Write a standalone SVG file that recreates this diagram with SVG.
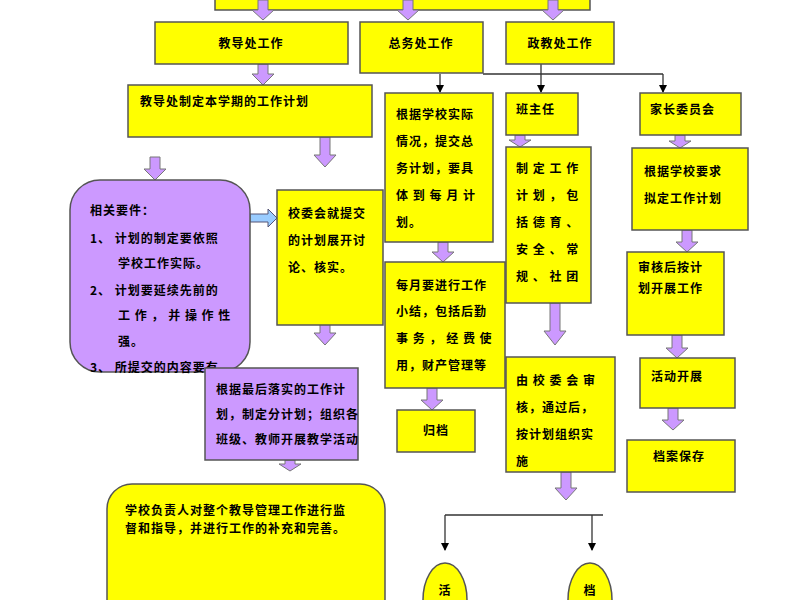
<svg xmlns="http://www.w3.org/2000/svg" width="800" height="600" viewBox="0 0 800 600">
<defs>
<style>
.y{fill:#ffff00;stroke:#555;stroke-width:1.5}
.p{fill:#cc99ff;stroke:#555;stroke-width:1.5}
.t{font-family:"Noto Sans CJK SC","Noto Sans",sans-serif;font-size:12px;font-weight:bold;fill:#000;letter-spacing:1px}
.ar{fill:#cc99ff;stroke:#777;stroke-width:1}
.ln{stroke:#333;stroke-width:1.3;fill:none}
</style>
<marker id="m" markerWidth="8" markerHeight="8" refX="7" refY="4" orient="auto" markerUnits="userSpaceOnUse"><path d="M0,0L8,4L0,8z" fill="#000"/></marker>
<path id="pa" d="M-5,0H5V-0H5V0" />
</defs>
<rect width="800" height="600" fill="#fff"/>
<g id="top"><rect class="y" x="215" y="-10" width="375" height="20"/></g>
<g id="arrows">
<path class="ar" d="M258,0h10v10h6l-11,10l-11,-10h6z"/>
<path class="ar" d="M403,0h10v10h6l-11,10l-11,-10h6z"/>
<path class="ar" d="M548,0h10v10h6l-11,10l-11,-10h6z"/>
<path class="ar" d="M258,64h10v10h6l-11,11l-11,-11h6z"/>
<path class="ar" d="M150,157h10v12h6l-11,11l-11,-11h6z"/>
<path class="ar" d="M320,137h10v18h6l-11,12l-11,-12h6z"/>
<path fill="#99ccff" stroke="#557" stroke-width="1" d="M250,214h18v-5l9,9l-9,9v-5h-18z"/>
<path class="ar" d="M320,316h10v17h6l-11,12l-11,-12h6z"/>
<path class="ar" d="M285,460h10v4h6l-11,7l-11,-7h6z"/>
<path class="ar" d="M438,242h10v10h6l-11,10l-11,-10h6z"/>
<path class="ar" d="M427,388h10v12h6l-11,10l-11,-10h6z"/>
<path class="ar" d="M515,135h10v5h6l-11,7l-11,-7h6z"/>
<path class="ar" d="M550,303h10v28h6l-11,14l-11,-14h6z"/>
<path class="ar" d="M561,472h10v16h6l-11,12l-11,-12h6z"/>
<path class="ar" d="M675,135h10v6h6l-11,7l-11,-7h6z"/>
<path class="ar" d="M682,230h10v12h6l-11,10l-11,-10h6z"/>
<path class="ar" d="M672,335h10v13h6l-11,10l-11,-10h6z"/>
<path class="ar" d="M668,408h10v12h6l-11,10l-11,-10h6z"/>
</g>
<g id="connectors">
<path class="ln" d="M483,74H663"/>
<path class="ln" d="M440,74V92" marker-end="url(#m)"/>
<path class="ln" d="M541,64V92" marker-end="url(#m)"/>
<path class="ln" d="M663,74V92" marker-end="url(#m)"/>
<path class="ln" d="M445,515H603"/>
<path class="ln" d="M445,515V550" marker-end="url(#m)"/>
<path class="ln" d="M592,515V550" marker-end="url(#m)"/>
</g>
<g id="jiaodao"><rect class="y" x="155" y="22" width="193" height="42"/><text class="t" x="251" y="48" text-anchor="middle">教导处工作</text></g>
<g id="zongwu"><rect class="y" x="360" y="22" width="123" height="51"/><text class="t" x="421" y="48" text-anchor="middle">总务处工作</text></g>
<g id="zhengjiao"><rect class="y" x="506" y="22" width="108" height="42"/><text class="t" x="560" y="48" text-anchor="middle">政教处工作</text></g>
<g id="plan"><rect class="y" x="128" y="85" width="244" height="52"/><text class="t" x="140" y="106">教导处制定本学期的工作计划</text></g>
<g id="req"><rect class="p" x="70" y="180" width="180" height="192" rx="30"/>
<text class="t" x="90" y="215">相关要件：</text>
<text class="t" x="90" y="243">1、 计划的制定要依照</text>
<text class="t" x="118" y="268">学校工作实际。</text>
<text class="t" x="90" y="295">2、 计划要延续先前的</text>
<text class="t" x="118" y="320">工 作 ， 并 操 作 性</text>
<text class="t" x="118" y="346">强。</text>
<text class="t" x="90" y="372">3、 所提交的内容要有</text></g>
<g id="xiaowei"><rect class="y" x="277" y="190" width="106" height="135"/>
<text class="t" x="288" y="218">校委会就提交</text><text class="t" x="288" y="245">的计划展开讨</text><text class="t" x="288" y="272">论、核实。</text></g>
<g id="fenjihua"><rect class="p" x="205" y="368" width="153" height="92"/>
<text class="t" x="216" y="394">根据最后落实的工作计</text><text class="t" x="216" y="419">划，制定分计划；组织各</text><text class="t" x="216" y="444">班级、教师开展教学活动</text></g>
<g id="jiandu"><rect class="y" x="107" y="484" width="278" height="140" rx="25"/>
<text class="t" x="125" y="515">学校负责人对整个教导管理工作进行监</text><text class="t" x="125" y="533">督和指导，并进行工作的补充和完善。</text></g>
<g id="zw1"><rect class="y" x="385" y="93" width="108" height="149"/>
<text class="t" x="396" y="119">根据学校实际</text><text class="t" x="396" y="146">情况，提交总</text><text class="t" x="396" y="173">务计划，要具</text><text class="t" x="396" y="200">体 到 每 月 计</text><text class="t" x="396" y="227">划。</text></g>
<g id="zw2"><rect class="y" x="385" y="262" width="120" height="126"/>
<text class="t" x="396" y="290">每月要进行工作</text><text class="t" x="396" y="316">小结，包括后勤</text><text class="t" x="396" y="343">事 务 ， 经 费 使</text><text class="t" x="396" y="370">用，财产管理等</text></g>
<g id="guidang"><rect class="y" x="397" y="410" width="78" height="42"/><text class="t" x="436" y="435" text-anchor="middle">归档</text></g>
<g id="banzhuren"><rect class="y" x="506" y="93" width="72" height="42"/><text class="t" x="516" y="114">班主任</text></g>
<g id="bzr2"><rect class="y" x="506" y="147" width="85" height="156"/>
<text class="t" x="516" y="173">制 定 工 作</text><text class="t" x="516" y="200">计 划 ， 包</text><text class="t" x="516" y="227">括 德 育 、</text><text class="t" x="516" y="254">安 全 、 常</text><text class="t" x="516" y="281">规 、 社 团</text></g>
<g id="bzr3"><rect class="y" x="506" y="357" width="109" height="115"/>
<text class="t" x="516" y="385">由 校 委 会 审</text><text class="t" x="516" y="412">核，通过后，</text><text class="t" x="516" y="439">按计划组织实</text><text class="t" x="516" y="466">施</text></g>
<g id="jiazhang"><rect class="y" x="640" y="93" width="101" height="42"/><text class="t" x="650" y="114">家长委员会</text></g>
<g id="jz2"><rect class="y" x="632" y="148" width="116" height="82"/><text class="t" x="644" y="176">根据学校要求</text><text class="t" x="644" y="203">拟定工作计划</text></g>
<g id="jz3"><rect class="y" x="627" y="252" width="97" height="83"/><text class="t" x="638" y="272">审核后按计</text><text class="t" x="638" y="293">划开展工作</text></g>
<g id="jz4"><rect class="y" x="640" y="358" width="95" height="50"/><text class="t" x="651" y="381">活动开展</text></g>
<g id="jz5"><rect class="y" x="627" y="440" width="108" height="52"/><text class="t" x="653" y="461">档案保存</text></g>
<g id="ov1"><ellipse class="y" cx="445" cy="600" rx="22" ry="37"/><text class="t" x="445" y="595" text-anchor="middle">活</text></g>
<g id="ov2"><ellipse class="y" cx="590" cy="600" rx="22" ry="37"/><text class="t" x="590" y="595" text-anchor="middle">档</text></g>
</svg>
